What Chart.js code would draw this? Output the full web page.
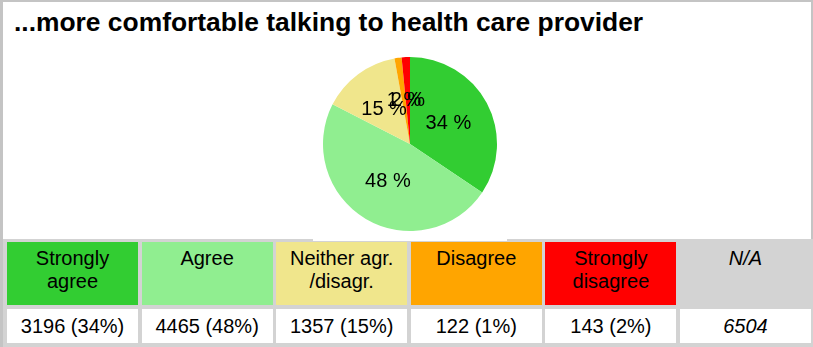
<!DOCTYPE html>
<html>
<head>
<meta charset="utf-8">
<script src="https://cdn.jsdelivr.net/npm/chart.js@4/dist/chart.umd.min.js"></script>
<style>
    body {
        margin: 0;
        width: 813px;
        height: 347px;
        background: #c4c4c4;
        position: relative;
        overflow: hidden;
        font-family: "Liberation Sans", Arial, sans-serif;
    }
    #panel {
        position: absolute;
        left: 3px;
        top: 2px;
        width: 808px;
        height: 240px;
        background: #fff;
    }
    #title {
        position: absolute;
        left: 11px;
        top: 5px;
        font-size: 26.4px;
        font-weight: bold;
        line-height: 30px;
        white-space: nowrap;
        color: #000;
    }
    #pieBox {
        position: absolute;
        left: 313px;
        top: 47px;
        width: 194px;
        height: 194px;
        background: #fff;
        z-index: 2;
    }
    #grid {
        position: absolute;
        left: 3px;
        top: 239px;
        width: 810px;
        height: 108px;
        background: #d3d3d3;
    }
    .cell {
        position: absolute;
        box-sizing: border-box;
        width: 131px;
        text-align: center;
        font-size: 20px;
        color: #000;
    }
    .head {
        top: 242px;
        height: 63px;
        line-height: 23px;
        padding: 5px 4px 0 4px;
    }
    .val {
        top: 309px;
        height: 34px;
        line-height: 34px;
        background: #fff;
        white-space: nowrap;
    }
    .na { font-style: italic; }
</style>
</head>
<body>
<div id="panel">
    <div id="title">...more comfortable talking to health care provider</div>
</div>
<div id="grid"></div>
<div id="pieBox"><canvas id="pieChart" width="194" height="194"></canvas></div>

<script>
const categories = ['Strongly agree', 'Agree', 'Neither agr. /disagr.', 'Disagree', 'Strongly disagree'];
const counts = [3196, 4465, 1357, 122, 143];
const colors = ['#32cd32', '#90ee90', '#f0e68c', '#ffa500', '#ff0000'];
const naLabel = 'N/A';
const naCount = 6504;
const naColor = '#d3d3d3';

const total = counts.reduce((a, b) => a + b, 0);
const percents = counts.map(c => Math.round(c / total * 100));

// table under the pie: one header cell and one value cell per answer, then N/A
const body = document.body;
const addCell = (cls, left, text, bg) => {
    const d = document.createElement('div');
    d.className = 'cell ' + cls;
    d.style.left = left + 'px';
    if (bg) d.style.background = bg;
    d.textContent = text;
    body.appendChild(d);
};
categories.forEach((name, i) => {
    const left = 7 + i * 134.6;
    addCell('head', left, name, colors[i]);
    addCell('val', left, counts[i] + ' (' + percents[i] + '%)');
});
const naLeft = 7 + categories.length * 134.6;
addCell('head na', naLeft, naLabel, naColor);
addCell('val na', naLeft, String(naCount));

// percent text in the middle of each slice
const pieLabels = {
    id: 'pieLabels',
    afterDatasetsDraw(chart) {
        const ctx = chart.ctx;
        const meta = chart.getDatasetMeta(0);
        ctx.save();
        ctx.font = '20px "Liberation Sans", Arial, sans-serif';
        ctx.fillStyle = '#000';
        ctx.textAlign = 'center';
        ctx.textBaseline = 'middle';
        meta.data.forEach((arc, i) => {
            const p = arc.tooltipPosition();
            ctx.fillText(percents[i] + ' %', p.x, p.y);
        });
        ctx.restore();
    }
};

var pieChart = new Chart(document.getElementById('pieChart').getContext('2d'), {
    type: 'pie',
    data: {
        labels: categories,
        datasets: [{
            data: counts,
            backgroundColor: colors,
            borderWidth: 0
        }]
    },
    options: {
        responsive: false,
        animation: false,
        layout: { padding: 10 },
        plugins: {
            legend: { display: false },
            tooltip: { enabled: false }
        }
    },
    plugins: [pieLabels]
});
</script>
</body>
</html>
